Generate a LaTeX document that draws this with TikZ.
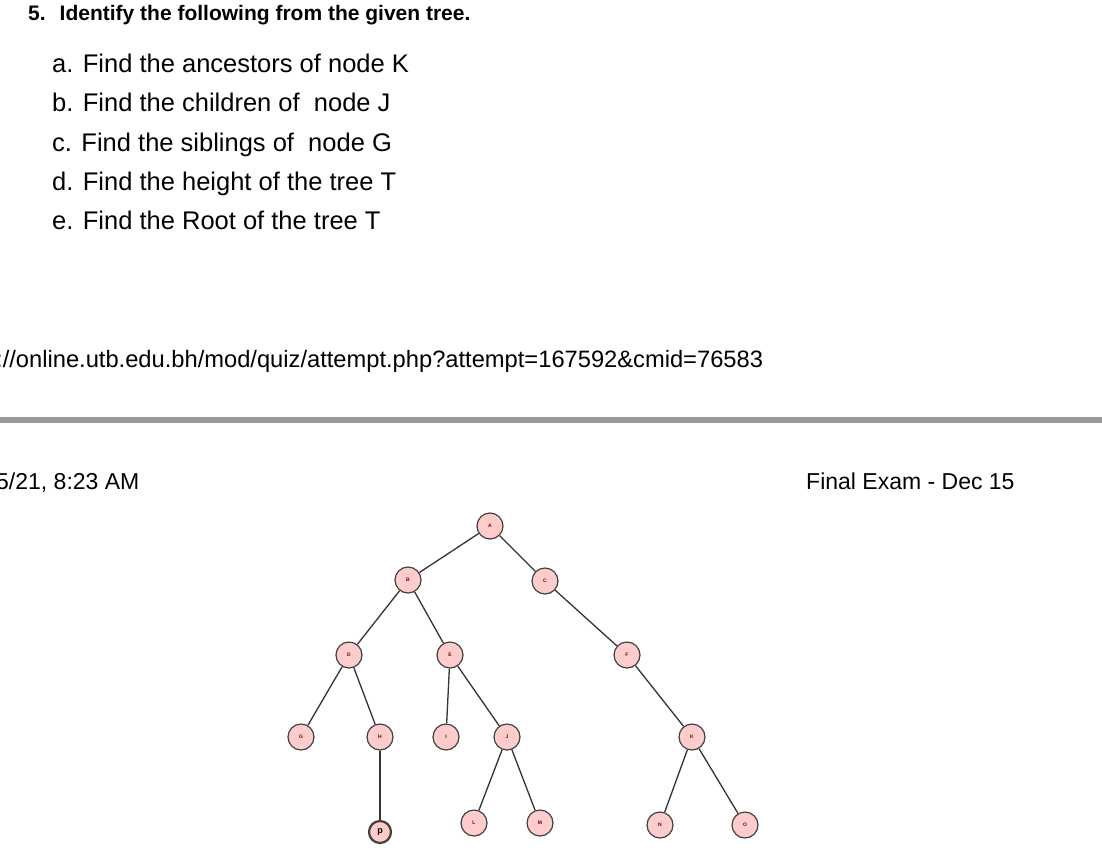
\documentclass[tikz,border=0pt]{standalone}
\usepackage{fontspec}
\setmainfont{Liberation Sans}
\begin{document}
\begin{tikzpicture}[x=1pt,y=-1pt,
  tn/.style={circle,draw=black!75,fill=red!20,line width=1.2pt,minimum size=26pt,inner sep=0pt,font=\fontsize{5}{6}\selectfont\bfseries,text=red!40!black},
  q/.style={anchor=base west,inner sep=0pt,font=\fontsize{23}{26}\selectfont},
  qq/.style={anchor=base west,inner sep=0pt,font=\fontsize{25.5}{28}\selectfont},
  edge/.style={draw=black!80,line width=1.3pt}]
\useasboundingbox (0,0) rectangle (1102,860);
\node[q,font=\fontsize{21}{26}\selectfont\bfseries] (h) at (28,20) {5.\hspace{14pt}Identify the following from the given tree.};
\node[qq] (qa) at (52,72) {a. Find the ancestors of node K};
\node[qq] (qb) at (52,111) {b. Find the children of\ \ node J};
\node[qq] (qc) at (52,151) {c. Find the siblings of\ \ node G};
\node[qq] (qd) at (52,190) {d. Find the height of the tree T};
\node[qq] (qe) at (52,229) {e. Find the Root of the tree T};
\node[q,font=\fontsize{23.7}{26}\selectfont] (url) at (-4,367) {://online.utb.edu.bh/mod/quiz/attempt.php?attempt=167592\&cmid=76583};
\fill[black!40] (0,417) rectangle (1102,423);
\node[q] (dt) at (-4,489) {5/21, 8:23 AM};
\node[q] (fe) at (806,489) {Final Exam - Dec 15};
\node[tn] (A) at (490,526) {A};
\node[tn] (B) at (408,580) {B};
\node[tn] (C) at (545,581) {C};
\node[tn] (D) at (349,655) {D};
\node[tn] (E) at (450,655) {E};
\node[tn] (F) at (627,655) {F};
\node[tn] (G) at (301,737) {G};
\node[tn] (H) at (380,737) {H};
\node[tn] (I) at (446,737) {I};
\node[tn] (J) at (507,737) {J};
\node[tn] (K) at (692,737) {K};
\node[tn] (L) at (474,823) {L};
\node[tn] (M) at (540,823) {M};
\node[tn] (N) at (660,825) {N};
\node[tn] (O) at (745,825) {O};
\node[tn,line width=2.2pt,minimum size=22pt,font=\fontsize{9}{10}\selectfont\bfseries,text=black] (P) at (380,832) {p};
\foreach \a/\b in {A/B,A/C,B/D,B/E,C/F,D/G,D/H,E/I,E/J,F/K,H/P,J/L,J/M,K/N,K/O}
  \draw[edge] (\a) -- (\b);
\end{tikzpicture}
\end{document}
